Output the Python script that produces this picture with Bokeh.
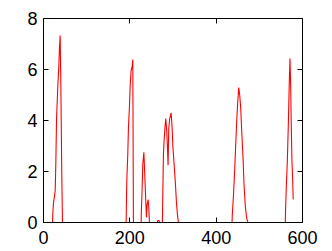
from bokeh.plotting import figure
from bokeh.models import Range1d, FixedTicker, LinearAxis, CustomJSTickFormatter
from bokeh.embed import file_html
from bokeh.resources import INLINE

# Series
x_vals = [14, 21, 21.7, 23.2, 27.1, 28.6, 30.2, 33.2, 35.5, 37.1, 38.6, 40.1, 42.4, 44,
          191.4, 191.9, 193, 195.3, 196.8, 199.1, 200.7, 203, 205.3, 206.9, 208.3,
          226.2, 226.7, 228.5, 230, 232.5, 234.5, 237, 238.5, 240, 242.4, 243.9, 245.4,
          264, 264.5, 268, 268.5,
          275.5, 276, 277.8, 279.4, 281.7, 283.3, 285.6, 287, 288.6, 290.2, 292.5, 295.6,
          297.9, 299.5, 302.5, 305.6, 307.9, 310.2, 312.5,
          436.8, 437.3, 439.9, 443, 445.4, 447.7, 450, 452.3, 454.6, 456.9, 459.3, 462.3,
          464.6, 467.7, 470.8, 473.8,
          560.2, 560.7, 562.5, 564.8, 567.1, 569.4, 571, 572.5, 574, 575.5, 577, 578.5]
y_vals = [0, 0, 0.4, 0.77, 1.24, 2.34, 4.06, 5.35, 6.13, 6.9, 7.33, 5.5, 1.8, 0,
          0, 0.55, 1.66, 2.7, 3.73, 4.53, 5.32, 5.97, 6.1, 6.39, 0,
          0, 0.46, 1.33, 2.27, 2.75, 1.92, 0.8, 0.2, 0.68, 0.9, 0.6, 0,
          0, 0.08, 0.08, 0,
          0, 0.72, 2.64, 3.23, 3.78, 4.08, 3.55, 3.0, 2.25, 3.69, 4.08, 4.3,
          3.75, 3.03, 2.31, 1.53, 0.81, 0.33, 0,
          0, 0.29, 1.0, 2.1, 3.1, 4.0, 4.73, 5.29, 4.99, 4.47, 3.55, 2.5,
          1.46, 0.61, 0.16, 0,
          0, 0.48, 1.42, 2.38, 3.78, 5.5, 6.43, 5.45, 3.81, 2.44, 1.79, 0.9]
x_ticks = [0, 200, 400, 600]
y_ticks = [0, 2, 4, 6, 8]

FONT = "Liberation Sans"
FS = "18px"

p = figure(width=332, height=251, output_backend="svg", toolbar_location=None,
           x_range=Range1d(0, 600), y_range=Range1d(0, 8),
           min_border_left=43, min_border_right=30, min_border_top=18, min_border_bottom=29)
p.background_fill_color = "white"
p.border_fill_color = "white"
p.outline_line_color = "black"
p.outline_line_width = 1
p.xgrid.visible = False
p.ygrid.visible = False

p.line(x_vals, y_vals, line_color="red", line_width=1.1)

def style(ax, ticks, labels=True):
    ax.ticker = FixedTicker(ticks=ticks)
    ax.major_tick_in = 5
    ax.major_tick_out = 0
    ax.minor_tick_line_color = None
    ax.axis_line_color = "black"
    ax.major_tick_line_color = "black"
    ax.major_label_text_font = FONT
    ax.major_label_text_font_size = FS
    ax.major_label_text_color = "black"
    ax.major_label_standoff = 6
    if not labels:
        ax.formatter = CustomJSTickFormatter(code="return ''")

style(p.xaxis[0], x_ticks)
style(p.yaxis[0], y_ticks)
p.xaxis[0].major_label_standoff = 8

top = LinearAxis()
style(top, x_ticks, labels=False)
p.add_layout(top, "above")
right = LinearAxis()
style(right, y_ticks, labels=False)
p.add_layout(right, "right")

open("out.html", "w").write(file_html(p, INLINE))
